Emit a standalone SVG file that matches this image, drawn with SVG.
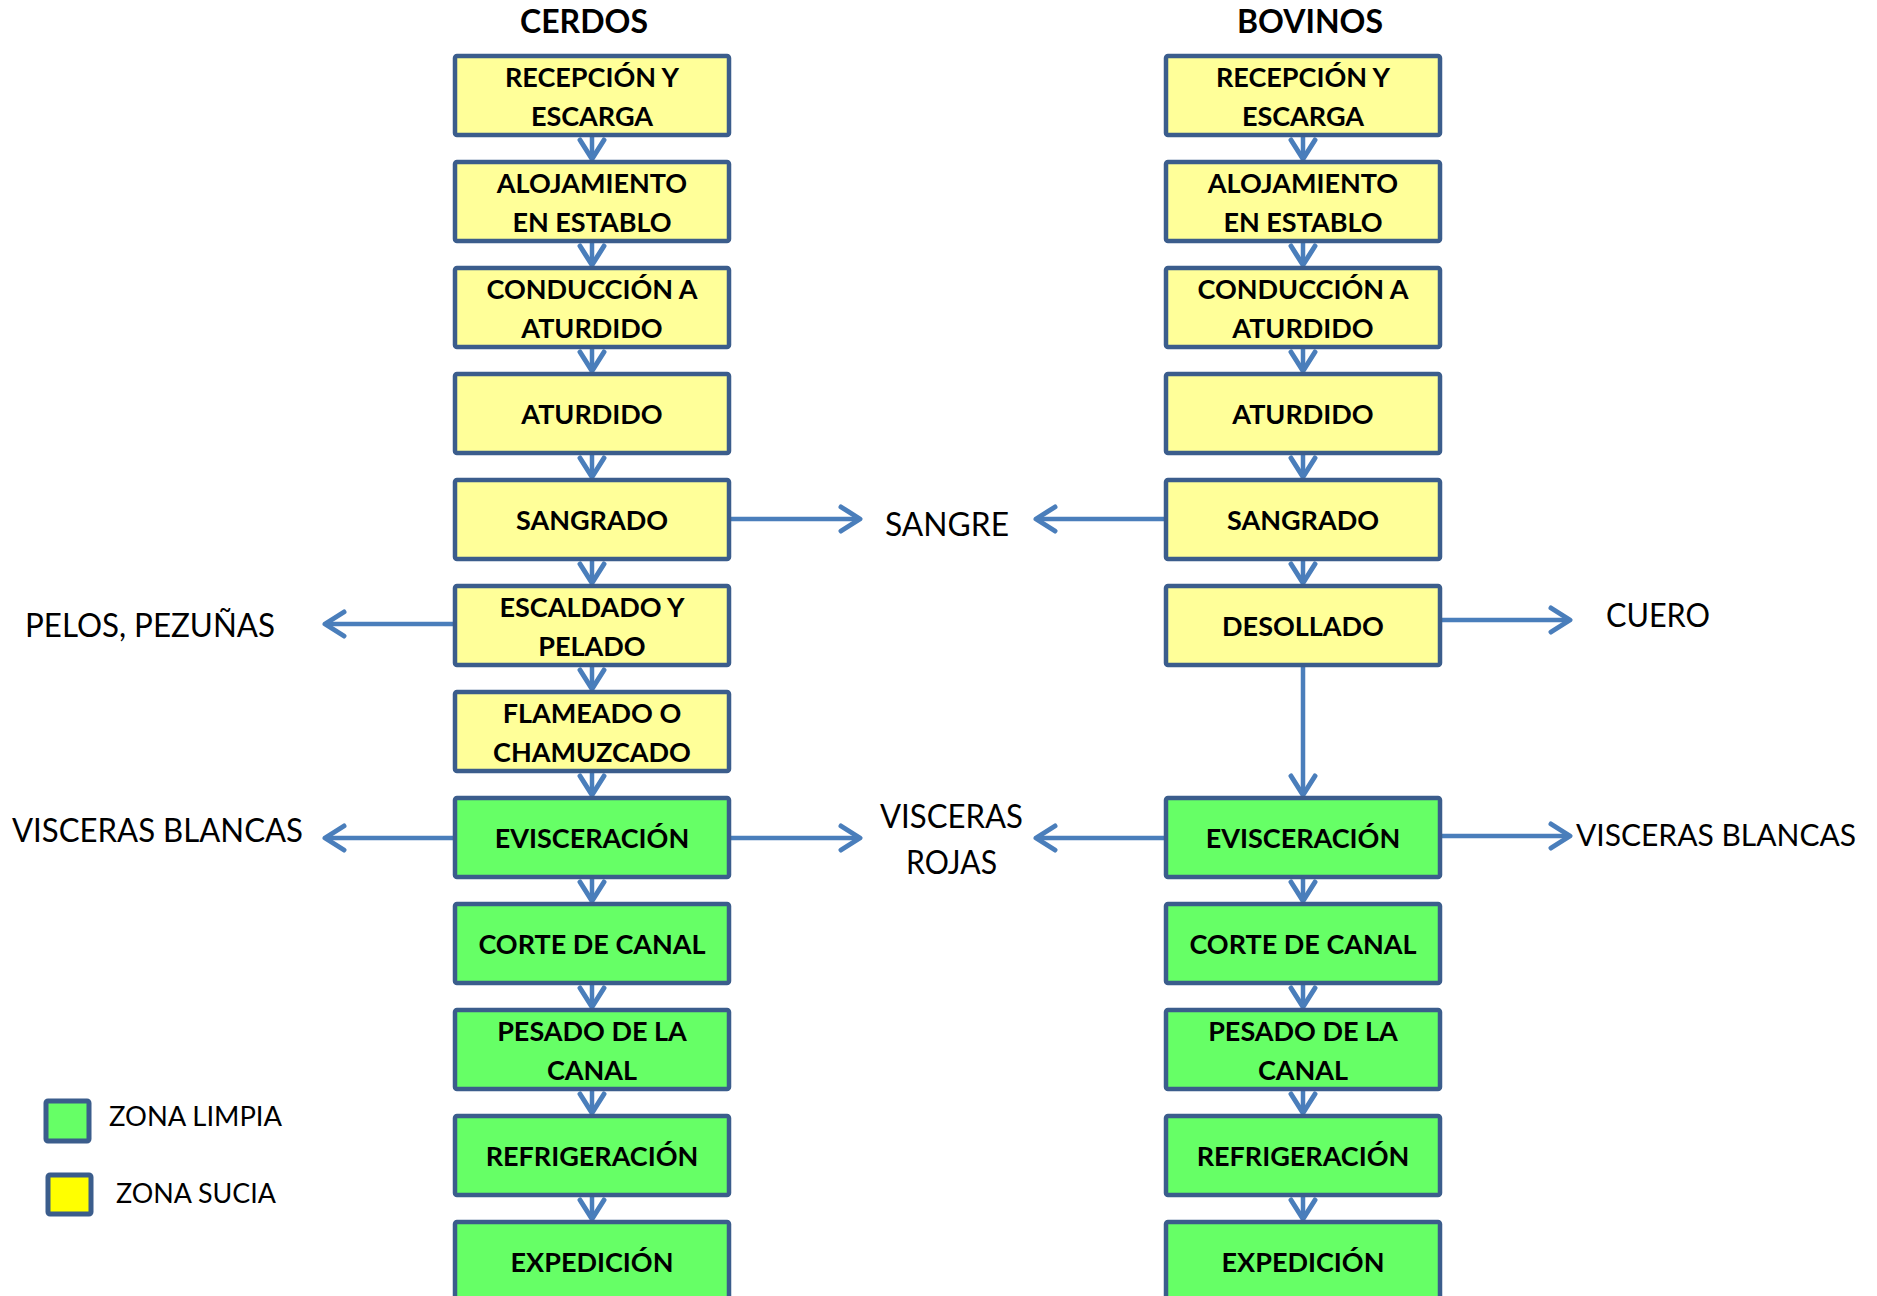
<svg xmlns="http://www.w3.org/2000/svg" width="1877" height="1296" viewBox="0 0 1877 1296">
<style>
.box{stroke:#3b5d8c;stroke-width:4.5;}
.y{fill:#ffff99;}
.g{fill:#66ff66;}
.bt{font-family:Lato,"Liberation Sans",sans-serif;font-weight:bold;font-size:27px;fill:#000;text-anchor:middle;}
.lb{font-family:Lato,"Liberation Sans",sans-serif;font-size:33px;fill:#000;}
.lbs{font-family:Lato,"Liberation Sans",sans-serif;font-size:30px;fill:#000;}
.tt{font-family:Lato,"Liberation Sans",sans-serif;font-weight:bold;font-size:32px;fill:#000;text-anchor:middle;}
.lg{font-family:Lato,"Liberation Sans",sans-serif;font-size:27px;fill:#000;}
.c{stroke:#4a7ebb;stroke-width:4.5;fill:none;marker-end:url(#ah);}
</style>
<defs>
<marker id="ah" markerUnits="userSpaceOnUse" markerWidth="30" markerHeight="30" viewBox="-24 -15 28 30" refX="0" refY="0" orient="auto">
<path d="M-19,-12 L0,0 L-19,12" fill="none" stroke="#4a7ebb" stroke-width="5" stroke-linecap="round" stroke-linejoin="round"/>
</marker>
</defs>
<rect width="1877" height="1296" fill="#fff"/>
<text class="tt" x="584" y="33">CERDOS</text>
<text class="tt" x="1310" y="33">BOVINOS</text>

<g id="connectors">
<path class="c" d="M592,135 V159"/>
<path class="c" d="M592,241 V265"/>
<path class="c" d="M592,347 V371"/>
<path class="c" d="M592,453 V477"/>
<path class="c" d="M592,559 V583"/>
<path class="c" d="M592,665 V689"/>
<path class="c" d="M592,771 V795"/>
<path class="c" d="M592,877 V901"/>
<path class="c" d="M592,983 V1007"/>
<path class="c" d="M592,1089 V1113"/>
<path class="c" d="M592,1195 V1219"/>
<path class="c" d="M1303,135 V159"/>
<path class="c" d="M1303,241 V265"/>
<path class="c" d="M1303,347 V371"/>
<path class="c" d="M1303,453 V477"/>
<path class="c" d="M1303,559 V583"/>
<path class="c" d="M1303,665 V795"/>
<path class="c" d="M1303,877 V901"/>
<path class="c" d="M1303,983 V1007"/>
<path class="c" d="M1303,1089 V1113"/>
<path class="c" d="M1303,1195 V1219"/>
<path class="c" d="M729,519 H860"/>
<path class="c" d="M1166,519 H1036"/>
<path class="c" d="M455,624 H325"/>
<path class="c" d="M1440,620 H1570"/>
<path class="c" d="M455,838 H325"/>
<path class="c" d="M729,838 H860"/>
<path class="c" d="M1166,838 H1036"/>
<path class="c" d="M1440,836 H1570"/>
</g>

<g id="c0"><rect class="box y" x="455" y="56" width="274" height="79" rx="2"/><text class="bt" x="592" y="87">RECEPCIÓN Y</text><text class="bt" x="592" y="126">ESCARGA</text></g>
<g id="c1"><rect class="box y" x="455" y="162" width="274" height="79" rx="2"/><text class="bt" x="592" y="193">ALOJAMIENTO</text><text class="bt" x="592" y="232">EN ESTABLO</text></g>
<g id="c2"><rect class="box y" x="455" y="268" width="274" height="79" rx="2"/><text class="bt" x="592" y="299">CONDUCCIÓN A</text><text class="bt" x="592" y="338">ATURDIDO</text></g>
<g id="c3"><rect class="box y" x="455" y="374" width="274" height="79" rx="2"/><text class="bt" x="592" y="424">ATURDIDO</text></g>
<g id="c4"><rect class="box y" x="455" y="480" width="274" height="79" rx="2"/><text class="bt" x="592" y="530">SANGRADO</text></g>
<g id="c5"><rect class="box y" x="455" y="586" width="274" height="79" rx="2"/><text class="bt" x="592" y="617">ESCALDADO Y</text><text class="bt" x="592" y="656">PELADO</text></g>
<g id="c6"><rect class="box y" x="455" y="692" width="274" height="79" rx="2"/><text class="bt" x="592" y="723">FLAMEADO O</text><text class="bt" x="592" y="762">CHAMUZCADO</text></g>
<g id="c7"><rect class="box g" x="455" y="798" width="274" height="79" rx="2"/><text class="bt" x="592" y="848">EVISCERACIÓN</text></g>
<g id="c8"><rect class="box g" x="455" y="904" width="274" height="79" rx="2"/><text class="bt" x="592" y="954">CORTE DE CANAL</text></g>
<g id="c9"><rect class="box g" x="455" y="1010" width="274" height="79" rx="2"/><text class="bt" x="592" y="1041">PESADO DE LA</text><text class="bt" x="592" y="1080">CANAL</text></g>
<g id="c10"><rect class="box g" x="455" y="1116" width="274" height="79" rx="2"/><text class="bt" x="592" y="1166">REFRIGERACIÓN</text></g>
<g id="c11"><rect class="box g" x="455" y="1222" width="274" height="79" rx="2"/><text class="bt" x="592" y="1272">EXPEDICIÓN</text></g>

<g id="b0"><rect class="box y" x="1166" y="56" width="274" height="79" rx="2"/><text class="bt" x="1303" y="87">RECEPCIÓN Y</text><text class="bt" x="1303" y="126">ESCARGA</text></g>
<g id="b1"><rect class="box y" x="1166" y="162" width="274" height="79" rx="2"/><text class="bt" x="1303" y="193">ALOJAMIENTO</text><text class="bt" x="1303" y="232">EN ESTABLO</text></g>
<g id="b2"><rect class="box y" x="1166" y="268" width="274" height="79" rx="2"/><text class="bt" x="1303" y="299">CONDUCCIÓN A</text><text class="bt" x="1303" y="338">ATURDIDO</text></g>
<g id="b3"><rect class="box y" x="1166" y="374" width="274" height="79" rx="2"/><text class="bt" x="1303" y="424">ATURDIDO</text></g>
<g id="b4"><rect class="box y" x="1166" y="480" width="274" height="79" rx="2"/><text class="bt" x="1303" y="530">SANGRADO</text></g>
<g id="b5"><rect class="box y" x="1166" y="586" width="274" height="79" rx="2"/><text class="bt" x="1303" y="636">DESOLLADO</text></g>
<g id="b7"><rect class="box g" x="1166" y="798" width="274" height="79" rx="2"/><text class="bt" x="1303" y="848">EVISCERACIÓN</text></g>
<g id="b8"><rect class="box g" x="1166" y="904" width="274" height="79" rx="2"/><text class="bt" x="1303" y="954">CORTE DE CANAL</text></g>
<g id="b9"><rect class="box g" x="1166" y="1010" width="274" height="79" rx="2"/><text class="bt" x="1303" y="1041">PESADO DE LA</text><text class="bt" x="1303" y="1080">CANAL</text></g>
<g id="b10"><rect class="box g" x="1166" y="1116" width="274" height="79" rx="2"/><text class="bt" x="1303" y="1166">REFRIGERACIÓN</text></g>
<g id="b11"><rect class="box g" x="1166" y="1222" width="274" height="79" rx="2"/><text class="bt" x="1303" y="1272">EXPEDICIÓN</text></g>

<g id="out-sangre"><text class="lb" x="885" y="536" textLength="124" lengthAdjust="spacingAndGlyphs">SANGRE</text></g>
<g id="out-pelos"><text class="lb" x="25" y="637" textLength="250" lengthAdjust="spacingAndGlyphs">PELOS, PEZUÑAS</text></g>
<g id="out-vb-l"><text class="lb" x="12" y="842" textLength="291" lengthAdjust="spacingAndGlyphs">VISCERAS BLANCAS</text></g>
<g id="out-vr"><text class="lb" x="880" y="828" textLength="143" lengthAdjust="spacingAndGlyphs">VISCERAS</text><text class="lb" x="906" y="874" textLength="91" lengthAdjust="spacingAndGlyphs">ROJAS</text></g>
<g id="out-cuero"><text class="lb" x="1606" y="627" textLength="104" lengthAdjust="spacingAndGlyphs">CUERO</text></g>
<g id="out-vb-r"><text class="lbs" x="1576" y="846">VISCERAS BLANCAS</text></g>

<g id="legend">
<rect x="46" y="1101" width="43" height="40" rx="2" fill="#66ff66" stroke="#3b5d8c" stroke-width="5"/>
<text class="lg" x="109" y="1126" textLength="173" lengthAdjust="spacingAndGlyphs">ZONA LIMPIA</text>
<rect x="48" y="1175" width="43" height="39" rx="2" fill="#ffff00" stroke="#3b5d8c" stroke-width="5"/>
<text class="lg" x="116" y="1203" textLength="160" lengthAdjust="spacingAndGlyphs">ZONA SUCIA</text>
</g>
</svg>
